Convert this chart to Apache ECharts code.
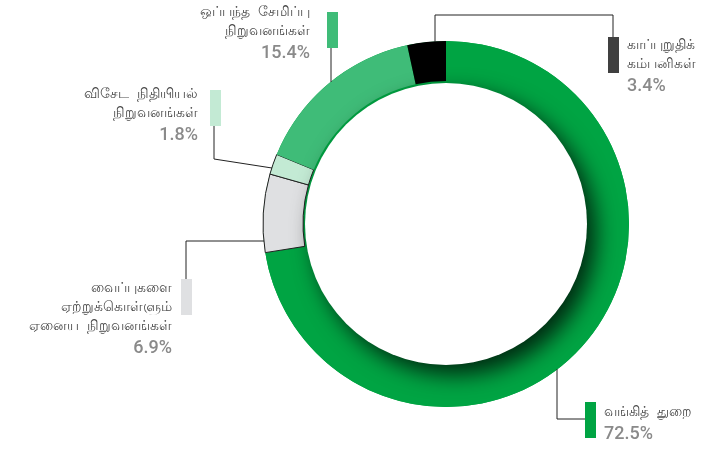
<!DOCTYPE html>
<html>
<head>
<meta charset="utf-8">
<script src="https://cdn.jsdelivr.net/npm/echarts@6/dist/echarts.min.js"></script>
<style>
    html, body { margin: 0; padding: 0; background: #fff; }
    #chart { width: 715px; height: 459px; }
</style>
</head>
<body>
<div id="chart"></div>
<script>
// 数据
const sectorLines = [
    ['வங்கித்  துறை'],
    ['வைப்புகளை', 'ஏற்றுக்கொள்ளும்', 'ஏனைய  நிறுவனங்கள்'],
    ['விசேட  நிதியியல்', 'நிறுவனங்கள்'],
    ['ஒப்பந்த  சேமிப்பு', 'நிறுவனங்கள்'],
    ['காப்புறுதிக்', 'கம்பனிகள்']
]
const shares = [72.5, 6.9, 1.8, 15.4, 3.4]
const sliceColors = ['#00a443', '#dfe0e2', '#c3ead4', '#3fbc78', '#000000']
const barColors = ['#00a443', '#dfe0e2', '#c3ead4', '#3fbc78', '#404040']

const center = [446, 224]

// 标签位置 (文字)
const textPos = [
    { x: 604, y: 403, align: 'left' },
    { x: 172, y: 279, align: 'right' },
    { x: 198, y: 85, align: 'right' },
    { x: 310, y: 3, align: 'right' },
    { x: 627, y: 36, align: 'left' }
]
// 色块位置 + 引线
const barPos = [
    { x: 585, y: 402, line: [[557, 369], [557, 419], [585, 419]] },
    { x: 181, y: 279, line: [[264, 241], [186, 241], [186, 279]] },
    { x: 210, y: 90, line: [[272, 168], [214, 159], [214, 126]] },
    { x: 327, y: 12, line: [[331, 82], [331, 48]] },
    { x: 608, y: 37, line: [[435, 42], [435, 15], [613, 15], [613, 37]] }
]

const chart = echarts.init(document.getElementById('chart'))

const textData = shares.map((v, i) => ({
    value: v,
    name: sectorLines[i].join(' '),
    itemStyle: {
        color: sliceColors[i],
        borderColor: (i === 1 || i === 2) ? '#222' : sliceColors[i],
        borderWidth: (i === 1 || i === 2) ? 1 : 0
    },
    label: {
        formatter: sectorLines[i].map(t => '{t|' + t + '}').join('\n') + '\n{p|' + v.toFixed(1) + '%}',
        align: textPos[i].align
    }
}))

const barData = shares.map((v, i) => ({
    value: v,
    name: 'bar' + i,
    label: {
        formatter: '{b|}',
        rich: {
            b: { width: 11, height: 36, backgroundColor: barColors[i] }
        }
    }
}))

const option = {
    backgroundColor: '#fff',
    animation: false,
    series: [
        // 底层绿色环
        {
            type: 'pie',
            silent: true,
            center,
            radius: [140, 183],
            label: { show: false },
            labelLine: { show: false },
            itemStyle: { color: '#00a443' },
            data: [1],
            z: 1
        },
        {
            type: 'pie',
            center,
            radius: [143, 183],
            startAngle: 90,
            clockwise: true,
            z: 2,
            emphasis: { disabled: true },
            label: {
                show: true,
                position: 'outside',
                overflow: 'none',
                width: 300,
                rich: {
                    t: { fontSize: 14, color: '#4a4a4a', lineHeight: 19, fontFamily: 'sans-serif' },
                    p: { fontSize: 18, color: '#8a8a8a', fontWeight: 500, lineHeight: 25, fontFamily: 'Roboto, sans-serif' }
                }
            },
            labelLine: { show: false },
            labelLayout: params => {
                const p = textPos[params.dataIndex]
                return { x: p.x, y: p.y, align: p.align, verticalAlign: 'top' }
            },
            data: textData
        },
        // 内圈阴影
        {
            type: 'pie',
            silent: true,
            center,
            radius: [0, 141],
            z: 3,
            label: { show: false },
            labelLine: { show: false },
            itemStyle: {
                color: '#fff',
                shadowColor: 'rgba(0,0,0,0.75)',
                shadowBlur: 22,
                shadowOffsetX: 9,
                shadowOffsetY: 10
            },
            data: [1]
        },
        // 色块 + 引线
        {
            type: 'pie',
            silent: true,
            center,
            radius: [143, 183],
            startAngle: 90,
            z: 4,
            itemStyle: { color: 'rgba(0,0,0,0)' },
            label: { show: true, position: 'outside', padding: 0 },
            labelLine: { show: true, lineStyle: { color: '#222', width: 1 } },
            labelLayout: params => {
                const p = barPos[params.dataIndex]
                return { x: p.x, y: p.y, align: 'left', verticalAlign: 'top', labelLinePoints: p.line }
            },
            data: barData
        }
    ]
}

chart.setOption(option)
window.addEventListener('resize', () => chart.resize())
</script>
</body>
</html>
